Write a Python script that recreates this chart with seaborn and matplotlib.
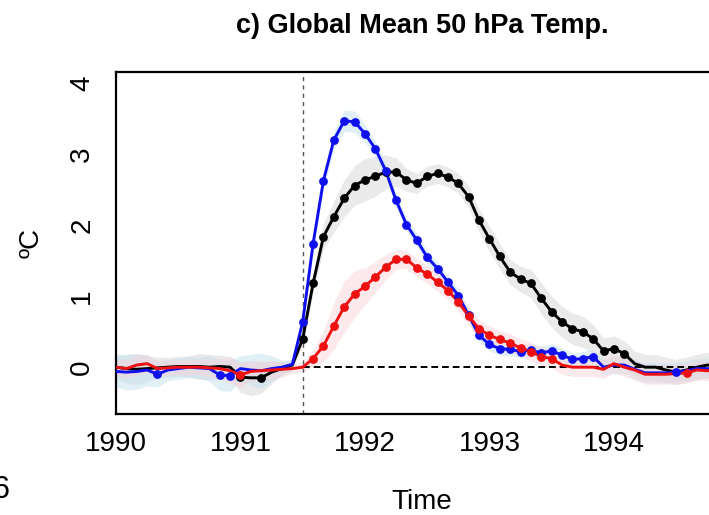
"""Global mean 50 hPa temperature anomaly after the 1991 eruption."""

import numpy as np
import pandas as pd
import matplotlib

matplotlib.use("Agg")
import matplotlib.pyplot as plt
import seaborn as sns

# monthly samples, Jan 1990 onwards
months = np.arange(60)
start_year = 1990
eruption_time = 1991.5

obs_vals = [0.0, -0.02, -0.03, -0.02, -0.01, 0.0, 0.01, 0.01, 0.01, 0.0,
            0.01, 0.0, -0.14, -0.15, -0.15, -0.07, -0.02, 0.03, 0.40, 1.18,
            1.84, 2.12, 2.38, 2.56, 2.64, 2.69, 2.75, 2.75, 2.64, 2.59,
            2.69, 2.73, 2.68, 2.59, 2.40, 2.07, 1.81, 1.56, 1.34, 1.24,
            1.18, 0.97, 0.78, 0.64, 0.54, 0.50, 0.40, 0.23, 0.26, 0.19,
            0.05, 0.0, 0.0, -0.04, -0.07, -0.04, 0.0, 0.03, 0.02, 0.0]
blue_vals = [-0.06, -0.07, -0.06, -0.04, -0.10, -0.04, -0.02, 0.0, -0.01, -0.02,
             -0.11, -0.12, -0.02, -0.04, -0.05, -0.02, 0.0, 0.04, 0.64, 1.74,
             2.63, 3.20, 3.47, 3.46, 3.29, 3.08, 2.77, 2.35, 2.01, 1.79,
             1.55, 1.39, 1.20, 1.01, 0.73, 0.45, 0.32, 0.26, 0.25, 0.22,
             0.24, 0.20, 0.23, 0.17, 0.11, 0.12, 0.15, 0.0, 0.03, 0.03,
             -0.03, -0.08, -0.08, -0.08, -0.07, -0.05, -0.02, -0.02, -0.02, -0.01]
red_vals = [0.0, -0.02, 0.03, 0.05, -0.02, -0.01, 0.0, 0.0, 0.0, -0.01,
            -0.02, -0.05, -0.11, -0.06, -0.05, -0.04, -0.03, -0.02, 0.0, 0.12,
            0.30, 0.58, 0.85, 1.03, 1.14, 1.27, 1.41, 1.52, 1.52, 1.40,
            1.31, 1.20, 1.08, 0.92, 0.72, 0.54, 0.45, 0.39, 0.34, 0.27,
            0.22, 0.15, 0.12, 0.03, 0.0, 0.0, 0.0, -0.03, 0.05, 0.0,
            -0.04, -0.10, -0.10, -0.10, -0.09, -0.08, -0.04, -0.05, -0.04, -0.03]

# half widths of the shaded spread
obs_spread = [0.18, 0.20, 0.22, 0.18, 0.15, 0.14, 0.14, 0.15, 0.18, 0.18,
              0.16, 0.15, 0.22, 0.25, 0.22, 0.16, 0.10, 0.07, 0.08, 0.14,
              0.18, 0.22, 0.26, 0.28, 0.30, 0.28, 0.24, 0.20, 0.16, 0.14,
              0.14, 0.14, 0.14, 0.14, 0.15, 0.17, 0.18, 0.18, 0.18, 0.18,
              0.20, 0.22, 0.22, 0.22, 0.22, 0.22, 0.20, 0.18, 0.18, 0.18,
              0.18, 0.18, 0.18, 0.18, 0.18, 0.18, 0.18, 0.18, 0.18, 0.18]
blue_spread = [0.22, 0.25, 0.25, 0.22, 0.18, 0.15, 0.15, 0.15, 0.15, 0.18,
               0.22, 0.22, 0.18, 0.22, 0.25, 0.18, 0.10, 0.07, 0.07, 0.09,
               0.11, 0.13, 0.15, 0.15, 0.13, 0.11, 0.10, 0.09, 0.09, 0.09,
               0.09, 0.09, 0.09, 0.09, 0.09, 0.09, 0.09, 0.09, 0.09, 0.09,
               0.09, 0.10, 0.10, 0.10, 0.10, 0.10, 0.10, 0.10, 0.12, 0.12,
               0.14, 0.14, 0.14, 0.14, 0.14, 0.14, 0.14, 0.14, 0.14, 0.14]
red_spread = [0.11, 0.13, 0.14, 0.13, 0.11, 0.11, 0.11, 0.11, 0.11, 0.13,
              0.14, 0.18, 0.18, 0.14, 0.14, 0.13, 0.11, 0.07, 0.07, 0.11,
              0.22, 0.33, 0.36, 0.33, 0.26, 0.22, 0.18, 0.14, 0.13, 0.13,
              0.13, 0.13, 0.13, 0.13, 0.13, 0.13, 0.13, 0.13, 0.13, 0.13,
              0.13, 0.13, 0.13, 0.13, 0.13, 0.13, 0.13, 0.13, 0.13, 0.13,
              0.14, 0.14, 0.14, 0.14, 0.14, 0.14, 0.14, 0.14, 0.14, 0.14]

# months drawn with a dot
obs_marked = [12, 14] + list(range(18, 50))
blue_marked = [4, 10, 11] + list(range(18, 47)) + [54]
red_marked = [12] + list(range(19, 43)) + [55]

x_ticks = [1990, 1991, 1992, 1993, 1994]
y_ticks = [0, 1, 2, 3, 4]

series = [
    ("obs", obs_vals, obs_spread, obs_marked, "black", "#dadada", 0.55),
    ("blue", blue_vals, blue_spread, blue_marked, "#1010ee", "#c4e2f0", 0.5),
    ("red", red_vals, red_spread, red_marked, "#ee1010", "#f9d0d6", 0.45),
]

frames = []
for name, vals, spread, marked, _, _, _ in series:
    vals = np.asarray(vals)
    spread = np.asarray(spread)
    frames.append(pd.DataFrame({
        "time": start_year + months / 12.0,
        "value": vals,
        "lo": vals - spread,
        "hi": vals + spread,
        "marked": np.isin(months, marked),
        "series": name,
    }))
df = pd.concat(frames, ignore_index=True)

sns.set_style("white")
plt.rcParams["font.family"] = ["Liberation Sans", "DejaVu Sans"]
plt.rcParams["text.color"] = "black"
plt.rcParams["axes.labelcolor"] = "black"

fig = plt.figure(figsize=(7.09, 5.15), dpi=100)
ax = fig.add_axes([116 / 709, 101 / 515, 612 / 709, 342 / 515])

# spreads first, so every line sits above all bands
for name, _, _, _, _, band, alpha in series:
    sub = df[df["series"] == name]
    ax.fill_between(sub["time"], sub["lo"], sub["hi"], color=band,
                    alpha=alpha, linewidth=0, zorder=1)

ax.axvline(eruption_time, color="#555555", linestyle=(0, (3, 3)),
           linewidth=1.0, zorder=2)
ax.hlines(0, eruption_time, start_year + months[-1] / 12.0, color="black",
          linestyle=(0, (3.5, 2)), linewidth=1.4, zorder=2)

for name, _, _, _, color, _, _ in series:
    sub = df[df["series"] == name]
    sns.lineplot(data=sub, x="time", y="value", color=color, linewidth=2.1,
                 ax=ax, zorder=3, legend=False)
    sns.scatterplot(data=sub[sub["marked"]], x="time", y="value", color=color,
                    s=40, linewidth=0, ax=ax, zorder=4, legend=False)

ax.set_xlim(start_year, start_year + months[-1] / 12.0)
ax.set_ylim(-0.66, 4.16)
ax.set_xticks(x_ticks)
ax.set_xticklabels([str(t) for t in x_ticks])
ax.set_yticks(y_ticks)
ax.set_yticklabels([str(t) for t in y_ticks], rotation=90, va="center")
ax.tick_params(axis="both", direction="out", length=10, width=1.5,
               labelsize=20, color="black", labelcolor="black")
ax.tick_params(axis="x", pad=2)
ax.tick_params(axis="y", pad=5)
for spine in ax.spines.values():
    spine.set_color("black")
    spine.set_linewidth(1.6)

ax.set_xlabel("Time", fontsize=20)
ax.xaxis.set_label_coords(0.5, -0.22)
ax.set_ylabel("ºC", fontsize=20)
ax.yaxis.set_label_coords(-0.117, 0.5)
ax.set_title("c) Global Mean 50 hPa Temp.", fontsize=19.5, fontweight="bold",
             color="black", pad=28)

# edge of the neighbouring panel label, cut by the crop
fig.text(-8 / 709, 1 - 490 / 515, "6", fontsize=22, ha="left", va="center")

fig.savefig("out.png", dpi=100)
